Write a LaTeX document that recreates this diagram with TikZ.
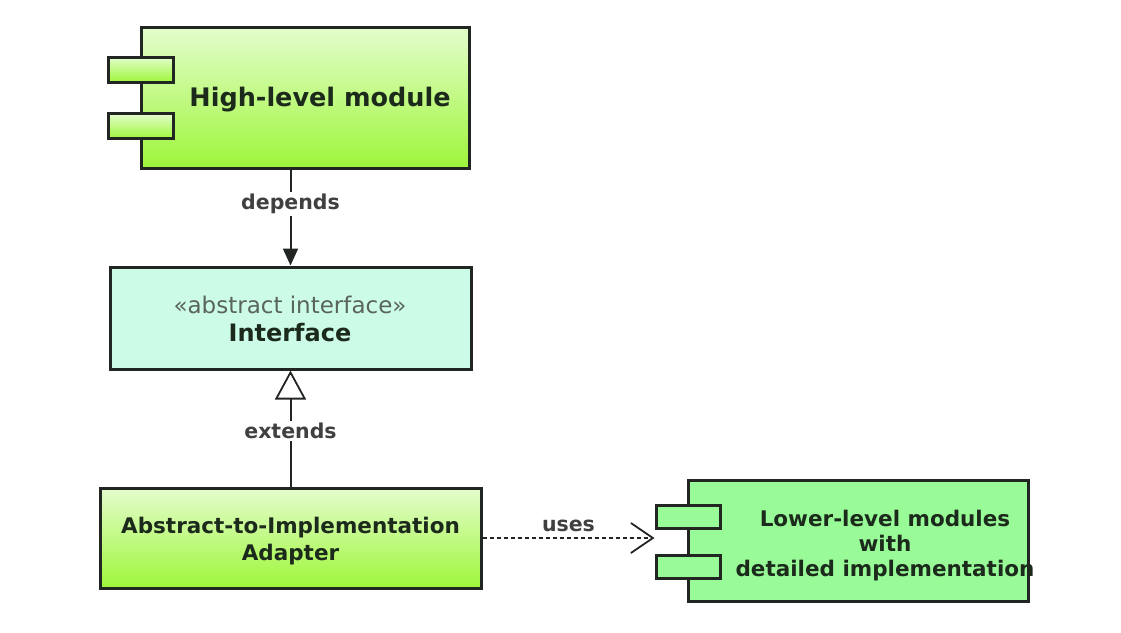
\documentclass[tikz,border=0pt]{standalone}
\usepackage{fontspec}
\setmainfont{DejaVu Sans}
\usetikzlibrary{arrows.meta}
\definecolor{gtop}{RGB}{228,253,205}
\definecolor{gbot}{RGB}{158,246,58}
\definecolor{ifill}{RGB}{204,252,232}
\definecolor{lfill}{RGB}{152,251,152}
\definecolor{edge}{RGB}{34,38,34}
\definecolor{txt}{RGB}{28,42,28}
\definecolor{lbl}{RGB}{64,64,64}
\definecolor{stereo}{RGB}{90,100,90}
\tikzset{
  box/.style={draw=edge, line width=3pt, rectangle, inner sep=0pt},
  gradbox/.style={box, top color=gtop, bottom color=gbot},
  tabbox/.style={box, minimum width=65pt, minimum height=24pt},
  boxtext/.style={text=txt, font=\bfseries\fontsize{21.5}{27}\selectfont, align=center, inner sep=0pt},
  conn/.style={draw=edge, line width=2pt},
  lbltext/.style={text=lbl, font=\bfseries\fontsize{20.5}{24}\selectfont, fill=white, inner sep=2pt}
}
\begin{document}
\begin{tikzpicture}[x=1pt,y=-1pt]
\useasboundingbox (0,0) rectangle (1121,632);
% High-level module
\node[gradbox, minimum width=328pt, minimum height=141pt] (high) at (305,97.5) {};
\node[tabbox, gradbox, minimum width=65pt, minimum height=25pt] (hightabA) at (140.5,69.5) {};
\node[tabbox, gradbox, minimum width=65pt, minimum height=25pt] (hightabB) at (140.5,126) {};
\node[boxtext, font=\bfseries\fontsize{25.5}{30}\selectfont] (hightext) at (320,100) {High-level module};
% Interface
\node[box, fill=ifill, minimum width=361pt, minimum height=102pt] (iface) at (290.5,318) {};
\node[text=stereo, font=\fontsize{23}{27}\selectfont, inner sep=0pt] (ifacest) at (290,305) {«abstract interface»};
\node[boxtext, font=\bfseries\fontsize{24}{28}\selectfont] (ifacename) at (290,333) {Interface};
% Adapter
\node[gradbox, minimum width=381pt, minimum height=100pt] (adapter) at (290.5,538) {};
\node[boxtext] (adaptertext) at (290.5,541) {Abstract-to-Implementation\\Adapter};
% Lower-level modules
\node[box, fill=lfill, minimum width=340pt, minimum height=121pt] (lower) at (858,540.5) {};
\node[box, fill=lfill, minimum width=64pt, minimum height=23pt] (lowtabA) at (688,516.5) {};
\node[box, fill=lfill, minimum width=64pt, minimum height=23pt] (lowtabB) at (688,566.5) {};
\node[boxtext, font=\bfseries\fontsize{21.5}{25}\selectfont] (lowertext) at (885,546) {Lower-level modules\\with\\detailed implementation};
% connectors
\draw[conn, -{Triangle[length=17pt,width=15pt]}] (high.south -| iface.north) -- node[lbltext, pos=0.36] (deplbl) {depends} (iface.north);
\draw[conn, -{Triangle[open, length=29pt, width=31pt, fill=white, line width=1.8pt]}] (adapter.north) -- node[lbltext, pos=0.48] (extlbl) {extends} (iface.south);
\coordinate (usesend) at (lowtabA.west |- adapter.east);
\draw[conn, line width=1.6pt, dash pattern=on 4pt off 3pt, -{Straight Barb[length=22pt, width=30pt, line width=1.8pt]}] (adapter.east) -- node[lbltext, fill=none, above=3pt] (uselbl) {uses} (usesend);
\end{tikzpicture}
\end{document}
